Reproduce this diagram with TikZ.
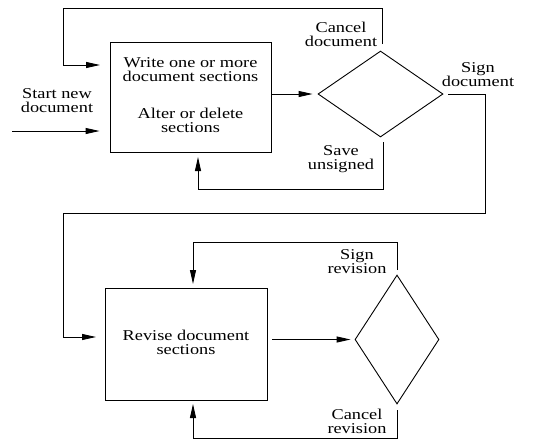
\documentclass[tikz,border=0pt]{standalone}
\usepackage{fontspec}
\setmainfont{Liberation Serif}[FakeStretch=1.22]
\usetikzlibrary{arrows.meta,shapes.geometric}

\tikzset{
  flow/.style={line width=0.9pt},
  arr/.style={flow,-{Triangle[length=14pt,width=6pt]}},
  procbox/.style={draw,line width=0.9pt,rectangle,inner sep=0pt,align=center},
  decide/.style={draw,line width=0.9pt,diamond,inner sep=0pt},
  lbl/.style={align=center,inner sep=0pt},
}

\begin{document}
\begin{tikzpicture}[x=1pt,y=-1pt,font=\fontsize{15}{14}\selectfont]
\useasboundingbox (0,0) rectangle (538,440);

% --- drafting stage ---
\node[procbox,minimum width=161,minimum height=110] (box1) at (190.5,97)
  {\raisebox{-4pt}{\begin{tabular}{@{}c@{}}Write one or more\\document sections\\[22pt]Alter or delete\\sections\end{tabular}}};
\node[decide,minimum width=125,minimum height=86] (d1) at (380.5,94) {};

\node[lbl] (start) at (57,101) {Start new\\document};
\node[lbl] (cancel) at (341,34) {Cancel\\document};
\node[lbl] (save) at (341,159) {Save\\unsigned};
\node[lbl] (sign) at (478,75) {Sign\\document};

\coordinate (s0) at (12,131);
\coordinate (in1) at (100,65);
\coordinate (c1) at (382,44);
\coordinate (su) at (383,142);
\coordinate (b1in) at (198,157);

\draw[arr,shorten >=10pt] (s0) -- (s0 -| box1.west);
\draw[arr,shorten >=5pt] (box1.east |- d1.west) -- (d1.west);
\draw[arr] (c1) |- (63,8) |- (in1);
\draw[arr] (su) -- (383,189) -| (b1in);

% --- revision stage ---
\node[procbox,minimum width=162,minimum height=112] (box2) at (186,344)
  {\raisebox{7pt}{\begin{tabular}{@{}c@{}}Revise document\\sections\end{tabular}}};
\node[decide,minimum width=84,minimum height=129] (d2) at (397,339.5) {};

\node[lbl] (srev) at (357,262) {Sign\\revision};
\node[lbl] (crev) at (357,421) {Cancel\\revision};

\coordinate (in2) at (96,337);
\coordinate (sr) at (397,270);
\coordinate (cr) at (397,410);
\coordinate (b2top) at (193,284);
\coordinate (b2bot) at (193,404);

\draw[arr,shorten <=5pt] (d1.east) -- (485,94) |- (63,213) |- (in2);
\draw[arr,shorten <=5pt,shorten >=4pt] (box2.east |- d2.west) -- (d2.west);
\draw[arr] (sr) |- (193,242) -- (b2top);
\draw[arr] (cr) |- (193,438) -- (b2bot);
\end{tikzpicture}
\end{document}
